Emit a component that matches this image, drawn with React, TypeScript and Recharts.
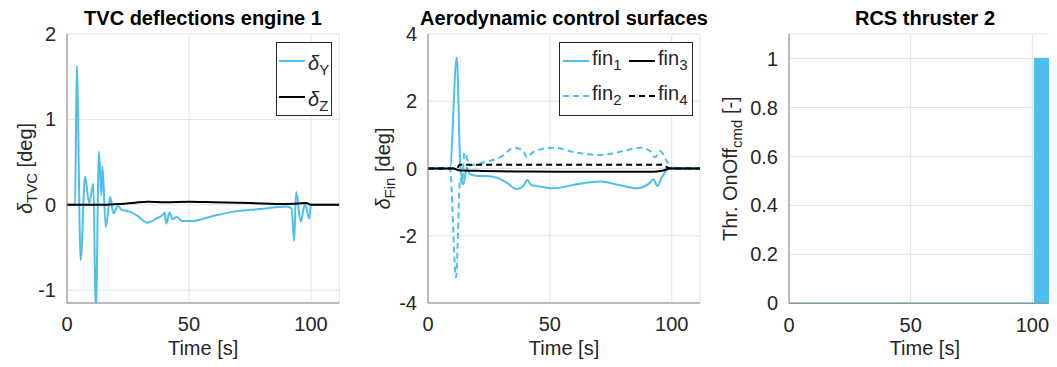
import React from "react";
import {
  LineChart,
  Line,
  AreaChart,
  Area,
  XAxis,
  YAxis,
  CartesianGrid,
  Legend,
} from "recharts";

const FONT = '"Liberation Sans", Arial, Helvetica, sans-serif';
const BLUE = "#4DBEEE";
const AXIS = "#858585";
const GRID = "#e3e3e3";
const TEXT = "#262626";

// ticks
const timeTicks = [0, 50, 100];
const tvcTicks = [-1, 0, 1, 2];
const finTicks = [-4, -2, 0, 2, 4];
const rcsTicks = [0, 0.2, 0.4, 0.6, 0.8, 1];
const timeDomain = [0, 111.6];

// TVC deflections engine 1
const tvcTimeY = [0, 3.3, 4.0, 5.6, 7.4, 9.1, 10.8, 11.8, 13.1, 14.1, 14.5, 15.9, 17.7, 19.0, 21.0, 22.4, 24.5, 28.5, 32.9, 36.7, 39.5, 40.0, 40.7, 42.0, 43.3, 45.0, 47.0, 51.8, 58.6, 68.2, 79.0, 90.0, 92.0, 93.1, 93.9, 95.8, 97.5, 99.3, 100, 111.6];
const tvcDeltaY = [0, 0, 1.63, -0.65, 0.33, 0.02, 0.25, -1.3, 0.62, 0.11, 0.45, -0.26, 0.09, -0.1, -0.01, -0.06, -0.07, -0.12, -0.21, -0.16, -0.11, -0.09, -0.22, -0.09, -0.17, -0.14, -0.19, -0.19, -0.14, -0.08, -0.05, -0.02, -0.04, -0.42, 0.15, -0.2, 0.01, -0.16, 0, 0];
const tvcTimeZ = [0, 15, 22, 28, 33, 40, 50, 60, 75, 90, 95, 98, 100, 111.6];
const tvcDeltaZ = [0, 0, 0.01, 0.025, 0.035, 0.03, 0.035, 0.03, 0.02, 0.01, 0.015, 0.02, 0, 0];

// Aerodynamic control surfaces
const fin1Time = [0, 9.0, 11.8, 13.2, 14.5, 15.9, 17.2, 20.6, 24, 28.2, 32.3, 36.4, 39.1, 40.7, 42.5, 44.5, 51.4, 61, 70.6, 78.8, 85.6, 91.1, 92.5, 94.1, 95.9, 99.3, 100, 111.6];
const fin1 = [0, 0, 3.3, 0.2, -0.47, 0.03, -0.17, -0.22, -0.22, -0.27, -0.42, -0.61, -0.52, -0.34, -0.5, -0.52, -0.59, -0.47, -0.39, -0.5, -0.59, -0.42, -0.32, -0.52, -0.27, 0.03, 0, 0];
const fin2Time = [0, 9.0, 11.5, 13.2, 14.0, 14.9, 17.2, 22.7, 29.5, 35.7, 39.1, 40.5, 43.2, 51.4, 61, 70.6, 80.2, 87, 91.1, 93.2, 95.2, 97.9, 100, 111.6];
const fin2 = [0, 0, -3.24, -0.3, -0.45, 0.47, 0.1, 0.18, 0.33, 0.62, 0.52, 0.33, 0.49, 0.62, 0.47, 0.4, 0.52, 0.62, 0.52, 0.33, 0.52, 0.23, 0.03, 0];
const fin3Time = [0, 10.5, 12.5, 20, 40, 60, 80, 92, 96, 99.5, 111.6];
const fin3 = [0, 0, -0.05, -0.07, -0.09, -0.1, -0.1, -0.1, -0.07, 0, 0];
const fin4Time = [0, 11.8, 13, 20, 50, 80, 95.9, 99.3, 111.6];
const fin4 = [0, 0, 0.11, 0.11, 0.11, 0.11, 0.11, 0, 0];

// RCS thruster 2
const rcsTime = [0, 101, 120];
const rcsCmd = [0, 1, 1];

const zip = (t: number[], v: number[]) => t.map((x, i) => ({ t: x, v: v[i] }));

const tickStyle = { fill: TEXT, fontSize: 20, fontFamily: FONT };

function YLabel({ viewBox, gap, main, sub, tail, italic }: any) {
  const cx = viewBox.x + viewBox.width - gap;
  const cy = viewBox.y + viewBox.height / 2;
  return (
    <text
      x={cx}
      y={cy}
      transform={`rotate(-90, ${cx}, ${cy})`}
      textAnchor="middle"
      fontSize={20}
      fontFamily={FONT}
      fill={TEXT}
    >
      <tspan fontStyle={italic ? "italic" : "normal"}>{main}</tspan>
      <tspan fontSize={15} dy={5}>{sub}</tspan>
      <tspan dy={-5}>{" " + tail}</tspan>
    </text>
  );
}

function XLabel({ viewBox }: any) {
  return (
    <text
      x={viewBox.x + viewBox.width / 2}
      y={viewBox.y + 52}
      textAnchor="middle"
      fontSize={20}
      fontFamily={FONT}
      fill={TEXT}
    >
      Time [s]
    </text>
  );
}

function LegendBox({ width, height, children }: any) {
  return (
    <div
      style={{
        width,
        height,
        boxSizing: "border-box",
        border: `1px solid ${TEXT}`,
        background: "#fff",
      }}
    >
      <svg width={width - 2} height={height - 2} style={{ display: "block" }}>
        {children}
      </svg>
    </div>
  );
}

function Entry({ x, y, color, dash, main, sub, italic }: any) {
  return (
    <g>
      <line x1={x} x2={x + 26} y1={y} y2={y} stroke={color} strokeWidth={2} strokeDasharray={dash} />
      <text x={x + 29} y={y + (italic ? 9 : 4)} fontSize={20} fontFamily={FONT} fill={TEXT}>
        <tspan fontStyle={italic ? "italic" : "normal"}>{main}</tspan>
        <tspan fontSize={15} dy={5}>{sub}</tspan>
      </text>
    </g>
  );
}

const TvcLegend = () => (
  <LegendBox width={56} height={74}>
    <Entry x={2} y={18} color={BLUE} main="δ" sub="Y" italic />
    <Entry x={2} y={54} color="#000" main="δ" sub="Z" italic />
  </LegendBox>
);

const FinLegend = () => (
  <LegendBox width={134} height={74}>
    <Entry x={3} y={18} color={BLUE} main="fin" sub="1" />
    <Entry x={69} y={18} color="#000" main="fin" sub="3" />
    <Entry x={3} y={53} color={BLUE} dash="6 4" main="fin" sub="2" />
    <Entry x={69} y={53} color="#000" dash="6 4" main="fin" sub="4" />
  </LegendBox>
);

function BoxAxes({ yDomain }: { yDomain: number[] }) {
  return null;
}

function commonAxes(yDomain: number[], yTicks: number[], label: any) {
  return [
    <CartesianGrid key="g" stroke={GRID} strokeWidth={1} />,
    <XAxis
      key="x"
      type="number"
      dataKey="t"
      domain={timeDomain}
      ticks={timeTicks}
      interval={0}
      allowDataOverflow
      height={30}
      tickSize={0}
      tickMargin={14}
      tick={tickStyle}
      axisLine={{ stroke: AXIS }}
      label={<XLabel />}
    />,
    <XAxis
      key="xt"
      xAxisId="top"
      orientation="top"
      type="number"
      domain={timeDomain}
      allowDataOverflow
      height={0}
      tick={false}
      tickLine={false}
      axisLine={{ stroke: AXIS }}
    />,
    <YAxis
      key="y"
      type="number"
      domain={yDomain}
      ticks={yTicks}
      interval={0}
      allowDataOverflow
      width={40}
      tickSize={0}
      tickMargin={11}
      tick={tickStyle}
      axisLine={{ stroke: AXIS }}
      label={label}
    />,
    <YAxis
      key="yr"
      yAxisId="right"
      orientation="right"
      type="number"
      domain={yDomain}
      allowDataOverflow
      width={0}
      tick={false}
      tickLine={false}
      axisLine={{ stroke: AXIS }}
    />,
  ];
}

const titles = [
  { x: 203, text: "TVC deflections engine 1" },
  { x: 564, text: "Aerodynamic control surfaces" },
  { x: 925, text: "RCS thruster 2" },
];

export default function App() {
  return (
    <div
      style={{
        position: "relative",
        width: 1057,
        height: 367,
        overflow: "hidden",
        margin: -8,
        background: "#fff",
        fontFamily: FONT,
      }}
    >
      <div style={{ position: "absolute", left: 0, top: 0 }}>
        <LineChart width={350} height={367} margin={{ top: 34, right: 10.7, bottom: 34, left: 27 }}>
          {commonAxes([-1.15, 2], tvcTicks, <YLabel gap={35} main="δ" sub="TVC" tail="[deg]" italic />)}
          <Line data={zip(tvcTimeY, tvcDeltaY)} dataKey="v" type="monotone" stroke={BLUE} strokeWidth={2} dot={false} isAnimationActive={false} />
          <Line data={zip(tvcTimeZ, tvcDeltaZ)} dataKey="v" type="monotone" stroke="#000" strokeWidth={2} dot={false} isAnimationActive={false} />
          <Legend
            layout="horizontal"
            verticalAlign="middle"
            align="center"
            wrapperStyle={{ left: 276, top: 42, width: 56, height: 74 }}
            content={() => <TvcLegend />}
          />
        </LineChart>
      </div>

      <div style={{ position: "absolute", left: 350, top: 0 }}>
        <LineChart width={360} height={367} margin={{ top: 34, right: 10, bottom: 34, left: 38 }}>
          {commonAxes([-4, 4], finTicks, <YLabel gap={38} main="δ" sub="Fin" tail="[deg]" italic />)}
          <Line data={zip(fin1Time, fin1)} dataKey="v" type="monotone" stroke={BLUE} strokeWidth={2} dot={false} isAnimationActive={false} />
          <Line data={zip(fin2Time, fin2)} dataKey="v" type="monotone" stroke={BLUE} strokeWidth={2} strokeDasharray="6 4" dot={false} isAnimationActive={false} />
          <Line data={zip(fin3Time, fin3)} dataKey="v" type="monotone" stroke="#000" strokeWidth={2} dot={false} isAnimationActive={false} />
          <Line data={zip(fin4Time, fin4)} dataKey="v" type="monotone" stroke="#000" strokeWidth={2} strokeDasharray="6 4" dot={false} isAnimationActive={false} />
          <Legend
            layout="horizontal"
            verticalAlign="middle"
            align="center"
            wrapperStyle={{ left: 209, top: 42, width: 134, height: 74 }}
            content={() => <FinLegend />}
          />
        </LineChart>
      </div>

      <div style={{ position: "absolute", left: 710, top: 0 }}>
        <AreaChart width={360} height={367} margin={{ top: 34, right: 9.4, bottom: 33.7, left: 39 }}>
          {commonAxes([0, 1.1], rcsTicks, <YLabel gap={52} main="Thr. OnOff" sub="cmd" tail="[-]" />)}
          <Area
            data={zip(rcsTime, rcsCmd)}
            dataKey="v"
            type="stepAfter"
            stroke={BLUE}
            strokeWidth={1.5}
            fill={BLUE}
            fillOpacity={1}
            isAnimationActive={false}
          />
        </AreaChart>
      </div>

      <svg width={1057} height={367} style={{ position: "absolute", left: 0, top: 0, pointerEvents: "none" }}>
        {titles.map((t) => (
          <text key={t.text} x={t.x} y={25} textAnchor="middle" fontSize={20} fontWeight="bold" fontFamily={FONT} fill="#000">
            {t.text}
          </text>
        ))}
      </svg>
    </div>
  );
}
